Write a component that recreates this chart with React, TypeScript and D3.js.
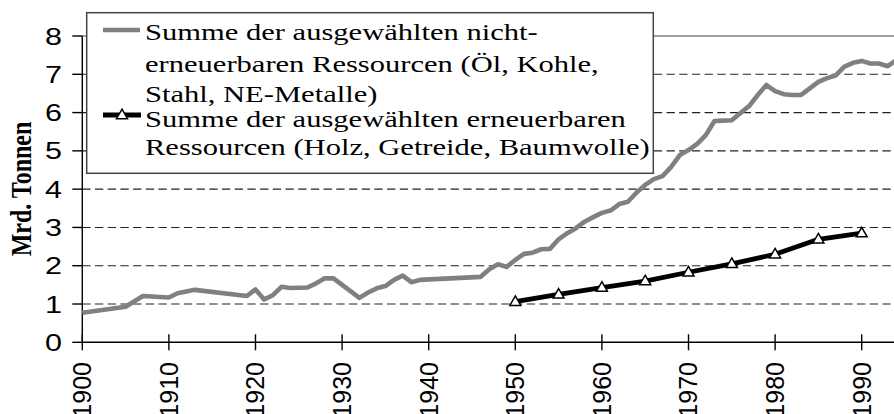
import React from "react";
import * as d3 from "d3";

const WIDTH = 894;
const HEIGHT = 414;

// Summe der ausgewählten nicht-erneuerbaren Ressourcen
const GREY_YEARS = [
    1900, 1905, 1907, 1910, 1911, 1913, 1919, 1920, 1921, 1922, 1923, 1924, 1926, 1927, 1928, 1929,
    1930, 1932, 1933, 1934, 1935, 1936, 1937, 1938, 1939, 1946, 1947, 1948, 1949, 1950, 1951, 1952,
    1953, 1954, 1955, 1956, 1957, 1958, 1959, 1960, 1961, 1962, 1963, 1964, 1965, 1966, 1967, 1968,
    1969, 1970, 1971, 1972, 1973, 1974, 1975, 1976, 1977, 1978, 1979, 1980, 1981, 1982, 1983, 1984,
    1985, 1986, 1987, 1988, 1989, 1990, 1991, 1992, 1993, 1994,
];
const GREY_VALUES = [
    0.77, 0.93, 1.21, 1.17, 1.28, 1.37, 1.21, 1.38, 1.12, 1.23, 1.45, 1.42, 1.43, 1.54, 1.67, 1.67,
    1.5, 1.16, 1.3, 1.41, 1.47, 1.63, 1.74, 1.57, 1.63, 1.71, 1.91, 2.04, 1.97, 2.15, 2.31, 2.34,
    2.43, 2.44, 2.69, 2.85, 2.98, 3.15, 3.27, 3.38, 3.44, 3.61, 3.67, 3.91, 4.11, 4.26, 4.34, 4.58,
    4.89, 5.02, 5.18, 5.41, 5.78, 5.79, 5.8, 5.99, 6.17, 6.46, 6.72, 6.56, 6.48, 6.46, 6.46, 6.63,
    6.8, 6.9, 6.97, 7.2, 7.3, 7.35, 7.28, 7.28, 7.21, 7.37,
];

// Summe der ausgewählten erneuerbaren Ressourcen
const BLACK_YEARS = [1950, 1955, 1960, 1965, 1970, 1975, 1980, 1985, 1990];
const BLACK_VALUES = [1.06, 1.25, 1.43, 1.6, 1.83, 2.05, 2.3, 2.69, 2.85];

const X_TICKS = [1900, 1910, 1920, 1930, 1940, 1950, 1960, 1970, 1980, 1990];
const Y_TICKS = [0, 1, 2, 3, 4, 5, 6, 7, 8];

const Y_TITLE = "Mrd. Tonnen";
const LEGEND_GREY = ["Summe der ausgewählten nicht-", "erneuerbaren Ressourcen (Öl, Kohle,", "Stahl, NE-Metalle)"];
const LEGEND_BLACK = ["Summe der ausgewählten erneuerbaren", "Ressourcen (Holz, Getreide, Baumwolle)"];

const SANS = "'Liberation Sans', Arial, sans-serif";
const SERIF = "'Liberation Serif', 'Times New Roman', serif";
const GREY = "#808080";

export default class App extends React.Component {

    ref = React.createRef<HTMLDivElement>();

    componentDidMount() {
        const container = d3.select(this.ref.current);
        container.selectAll("*").remove();

        const svg = container.append("svg")
            .attr("width", WIDTH)
            .attr("height", HEIGHT)
            .style("position", "absolute")
            .style("left", "0px")
            .style("top", "0px")
            .style("background", "#fff");

        const x = d3.scaleLinear().domain([1900, 1990]).range([82.3, 861.7]);
        const y = d3.scaleLinear().domain([0, 8]).range([342.3, 36]);

        const left = x(1900);
        const right = WIDTH;

        // gridlines
        svg.append("g")
            .selectAll("line")
            .data(Y_TICKS.filter(t => t > 0 && t < 8))
            .enter()
            .append("line")
            .attr("x1", left).attr("x2", right)
            .attr("y1", d => y(d)).attr("y2", d => y(d))
            .attr("stroke", "#222")
            .attr("stroke-width", 1.1)
            .attr("stroke-dasharray", "8.3,4.4");

        // top border of plot area
        svg.append("line")
            .attr("x1", left).attr("x2", right)
            .attr("y1", y(8)).attr("y2", y(8))
            .attr("stroke", GREY).attr("stroke-width", 1.3);

        // y axis
        svg.append("line")
            .attr("x1", left).attr("x2", left)
            .attr("y1", y(8)).attr("y2", y(0))
            .attr("stroke", "#000").attr("stroke-width", 1.4);

        const yTick = svg.append("g").selectAll("g").data(Y_TICKS).enter().append("g");
        yTick.append("line")
            .attr("x1", left - 10).attr("x2", left)
            .attr("y1", d => y(d)).attr("y2", d => y(d))
            .attr("stroke", "#000").attr("stroke-width", 1.4);
        yTick.append("text")
            .attr("transform", d => `translate(62,${y(d) + 8.5}) scale(1.3,1)`)
            .attr("text-anchor", "end")
            .attr("font-family", SANS)
            .attr("font-size", 23.5)
            .text(d => d);

        // x axis
        svg.append("line")
            .attr("x1", left).attr("x2", right)
            .attr("y1", y(0)).attr("y2", y(0))
            .attr("stroke", "#000").attr("stroke-width", 1.4);

        const xTick = svg.append("g").selectAll("g").data(X_TICKS).enter().append("g");
        xTick.append("line")
            .attr("x1", d => x(d)).attr("x2", d => x(d))
            .attr("y1", y(0) - 8).attr("y2", y(0) + 8)
            .attr("stroke", "#000").attr("stroke-width", 1.4);
        xTick.append("text")
            .attr("transform", d => `translate(${x(d) + 8.8},362) rotate(-90)`)
            .attr("text-anchor", "end")
            .attr("font-family", SANS)
            .attr("font-size", 25)
            .text(d => d);

        // y axis title
        svg.append("text")
            .attr("transform", "translate(31,189) scale(1.25,1) rotate(-90)")
            .attr("text-anchor", "middle")
            .attr("font-family", SERIF)
            .attr("font-weight", "bold")
            .attr("font-size", 24)
            .text(Y_TITLE);

        // series
        const line = d3.line<[number, number]>()
            .x(d => x(d[0]))
            .y(d => y(d[1]));

        const greyData = GREY_YEARS.map((yr, i) => [yr, GREY_VALUES[i]] as [number, number]);
        const blackData = BLACK_YEARS.map((yr, i) => [yr, BLACK_VALUES[i]] as [number, number]);

        svg.append("path")
            .attr("d", line(greyData))
            .attr("fill", "none")
            .attr("stroke", GREY)
            .attr("stroke-width", 4.6)
            .attr("stroke-linejoin", "round");

        svg.append("path")
            .attr("d", line(blackData))
            .attr("fill", "none")
            .attr("stroke", "#000")
            .attr("stroke-width", 4.8)
            .attr("stroke-linejoin", "round");

        const tri = d3.symbol().type(d3.symbolTriangle).size(52);

        svg.append("g")
            .selectAll("path")
            .data(blackData)
            .enter()
            .append("path")
            .attr("d", tri)
            .attr("transform", d => `translate(${x(d[0])},${y(d[1]) + 0.5})`)
            .attr("fill", "#fff")
            .attr("stroke", "#000")
            .attr("stroke-width", 1.5);

        // legend
        const legend = svg.append("g");
        legend.append("rect")
            .attr("x", 86.7).attr("y", 12.7)
            .attr("width", 566.6).attr("height", 160.6)
            .attr("fill", "#fff")
            .attr("stroke", "#444")
            .attr("stroke-width", 1.5);

        legend.append("line")
            .attr("x1", 103).attr("x2", 140)
            .attr("y1", 30).attr("y2", 30)
            .attr("stroke", GREY).attr("stroke-width", 4.6);

        legend.append("line")
            .attr("x1", 103).attr("x2", 141)
            .attr("y1", 115).attr("y2", 115)
            .attr("stroke", "#000").attr("stroke-width", 4.8);
        legend.append("path")
            .attr("d", tri)
            .attr("transform", "translate(122,115.5)")
            .attr("fill", "#fff")
            .attr("stroke", "#000")
            .attr("stroke-width", 1.5);

        const legendLines = [
            ...LEGEND_GREY.map((t, i) => ({t, base: [40, 71.7, 102][i]})),
            ...LEGEND_BLACK.map((t, i) => ({t, base: [126.5, 155][i]})),
        ];
        legend.selectAll("text.leg")
            .data(legendLines)
            .enter()
            .append("text")
            .attr("class", "leg")
            .attr("transform", d => `translate(145,${d.base}) scale(1.3,1)`)
            .attr("font-family", SERIF)
            .attr("font-size", 23.5)
            .text(d => d.t);
    }

    render() {
        return <div ref={this.ref}/>
    }
}
